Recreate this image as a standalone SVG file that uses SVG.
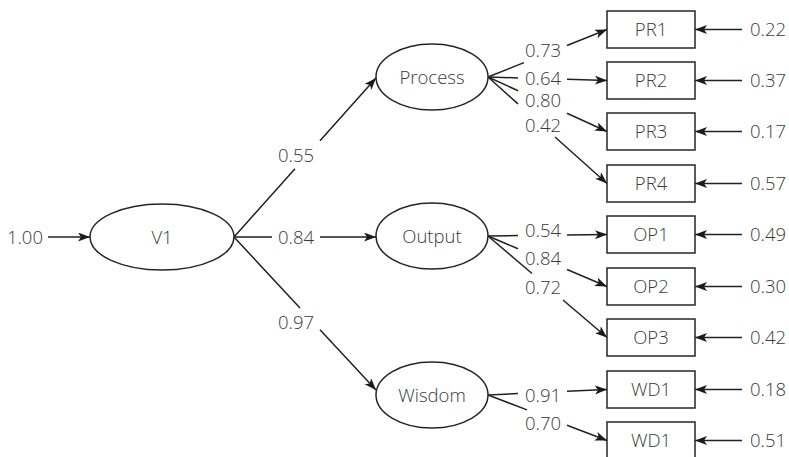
<svg xmlns="http://www.w3.org/2000/svg" width="789" height="457" viewBox="0 0 789 457">
<style>
.node{fill:#fff;stroke:#262626;stroke-width:1.5}
.edge{fill:none;stroke:#222;stroke-width:1.5;marker-end:url(#arr)}
text{font-family:"Open Sans","Liberation Sans",sans-serif;font-size:18.5px;font-weight:300;fill:#3a3a3a}
.m{text-anchor:middle}
</style>
<defs>
<marker id="arr" markerUnits="userSpaceOnUse" markerWidth="13" markerHeight="10" refX="12" refY="4.5" orient="auto">
<path d="M0,0 L12,4.5 L0,9 L3,4.5 z" fill="#1a1a1a"/>
</marker>
</defs>
<rect width="789" height="457" fill="#fff"/>
<g id="connectors">
<path class="edge" d="M48,237 L90,237"/>
<path class="edge" d="M234,237 L295,168.7 M320,140.7 L376,78"/>
<path class="edge" d="M234,237 L272,237 M320,237 L376,237"/>
<path class="edge" d="M234,237 L300,308.1 M320,329.7 L376,390"/>
<path class="edge" d="M488,77 L524,62.6 M567,45.5 L607,29.5"/>
<path class="edge" d="M488,77 L518,77.9 M567,79.3 L607,80.5"/>
<path class="edge" d="M488,77 L518,90.7 M567,113.2 L607,131.5"/>
<path class="edge" d="M488,77 L518,103.9 M555,137 L607,183.5"/>
<path class="edge" d="M488,236 L518,235.6 M567,235 L607,234.5"/>
<path class="edge" d="M488,236 L518,248.7 M567,269.5 L607,286.5"/>
<path class="edge" d="M488,236 L532,273.5 M563,300 L607,337.5"/>
<path class="edge" d="M488,395 L518,393.6 M567,391.3 L607,389.5"/>
<path class="edge" d="M488,395 L527,409.9 M567,425.2 L607,440.5"/>
<path class="edge" d="M742,29.5 L695,29.5"/>
<path class="edge" d="M742,80.5 L695,80.5"/>
<path class="edge" d="M742,131.5 L695,131.5"/>
<path class="edge" d="M742,183.5 L695,183.5"/>
<path class="edge" d="M742,234.5 L695,234.5"/>
<path class="edge" d="M742,286.5 L695,286.5"/>
<path class="edge" d="M742,337.5 L695,337.5"/>
<path class="edge" d="M742,389.5 L695,389.5"/>
<path class="edge" d="M742,440.5 L695,440.5"/>
</g>
<g id="edge-labels">
<text x="43" y="243.5" text-anchor="end">1.00</text>
<text class="m" x="296" y="161.5">0.55</text>
<text class="m" x="296" y="243.5">0.84</text>
<text class="m" x="296" y="328.5">0.97</text>
<text class="m" x="543" y="56.5">0.73</text>
<text class="m" x="543" y="84.5">0.64</text>
<text class="m" x="543" y="106.5">0.80</text>
<text class="m" x="543" y="131.5">0.42</text>
<text class="m" x="543" y="236.5">0.54</text>
<text class="m" x="543" y="264.5">0.84</text>
<text class="m" x="543" y="293.5">0.72</text>
<text class="m" x="543" y="401.5">0.91</text>
<text class="m" x="543" y="429.5">0.70</text>
<text x="750" y="36">0.22</text>
<text x="750" y="87">0.37</text>
<text x="750" y="138">0.17</text>
<text x="750" y="190">0.57</text>
<text x="750" y="241">0.49</text>
<text x="750" y="293">0.30</text>
<text x="750" y="344">0.42</text>
<text x="750" y="396">0.18</text>
<text x="750" y="447">0.51</text>
</g>
<g id="V1"><ellipse class="node" cx="162" cy="237" rx="72" ry="33"/><text class="m" x="162" y="243.5">V1</text></g>
<g id="Process"><ellipse class="node" cx="432" cy="77" rx="56" ry="33"/><text class="m" x="432" y="83.5">Process</text></g>
<g id="Output"><ellipse class="node" cx="432" cy="236" rx="56" ry="33"/><text class="m" x="432" y="242.5">Output</text></g>
<g id="Wisdom"><ellipse class="node" cx="432" cy="395" rx="56" ry="33"/><text class="m" x="432" y="401.5">Wisdom</text></g>
<g id="PR1"><rect class="node" x="607" y="11" width="88" height="37"/><text class="m" x="651" y="36">PR1</text></g>
<g id="PR2"><rect class="node" x="607" y="62" width="88" height="37"/><text class="m" x="651" y="87">PR2</text></g>
<g id="PR3"><rect class="node" x="607" y="113" width="88" height="37"/><text class="m" x="651" y="138">PR3</text></g>
<g id="PR4"><rect class="node" x="607" y="165" width="88" height="37"/><text class="m" x="651" y="190">PR4</text></g>
<g id="OP1"><rect class="node" x="607" y="216" width="88" height="37"/><text class="m" x="651" y="241">OP1</text></g>
<g id="OP2"><rect class="node" x="607" y="268" width="88" height="37"/><text class="m" x="651" y="293">OP2</text></g>
<g id="OP3"><rect class="node" x="607" y="319" width="88" height="37"/><text class="m" x="651" y="344">OP3</text></g>
<g id="WD1a"><rect class="node" x="607" y="371" width="88" height="37"/><text class="m" x="651" y="396">WD1</text></g>
<g id="WD1b"><rect class="node" x="607" y="422" width="88" height="37"/><text class="m" x="651" y="447">WD1</text></g>
</svg>
